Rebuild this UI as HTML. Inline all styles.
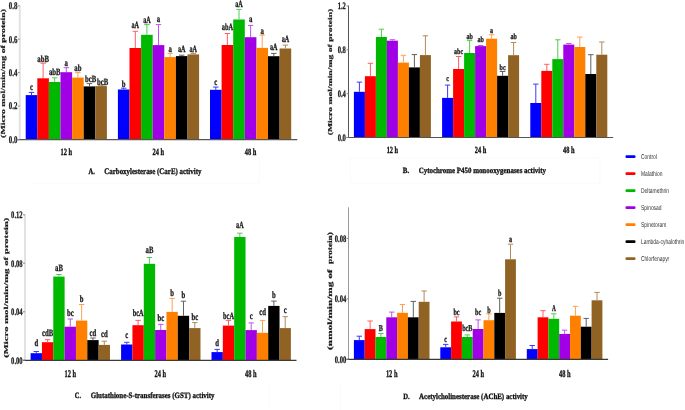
<!DOCTYPE html>
<html><head><meta charset="utf-8"><style>
html,body{margin:0;padding:0;background:#fff;}
body{width:685px;height:410px;overflow:hidden;}
svg{display:block;will-change:transform;filter:blur(0.35px);}
</style></head><body>
<svg width="685" height="410" viewBox="0 0 685 410" text-rendering="geometricPrecision">
<rect width="685" height="410" fill="#fff"/>
<path d="M30,183.3 H259.5 V157" fill="none" stroke="#fafafa" stroke-width="1"/>
<path d="M350.3,158 V183.3 H599.9 V158 Z" fill="none" stroke="#fafafa" stroke-width="1"/>
<path d="M269.3,382 V408.2 M340.5,382 V410" fill="none" stroke="#fafafa" stroke-width="1"/>
<rect x="25.70" y="95.10" width="11.60" height="44.50" fill="#0000ff"/>
<line x1="31.50" y1="92.40" x2="31.50" y2="95.10" stroke="#3a3aff" stroke-width="1"/>
<line x1="28.80" y1="92.40" x2="34.20" y2="92.40" stroke="#3a3aff" stroke-width="1"/>
<text x="31.50" y="90.20" font-size="9.5" font-family='"Liberation Serif", serif' font-weight="bold" fill="#1a1a1a" text-anchor="middle" textLength="2.99" lengthAdjust="spacingAndGlyphs" stroke="#1a1a1a" stroke-width="0.3">c</text>
<rect x="37.30" y="78.30" width="11.60" height="61.30" fill="#ff0000"/>
<line x1="43.10" y1="63.20" x2="43.10" y2="78.30" stroke="#ff6060" stroke-width="1"/>
<line x1="40.40" y1="63.20" x2="45.80" y2="63.20" stroke="#ff6060" stroke-width="1"/>
<text x="43.10" y="61.60" font-size="9.5" font-family='"Liberation Serif", serif' font-weight="bold" fill="#1a1a1a" text-anchor="middle" textLength="11.62" lengthAdjust="spacingAndGlyphs" stroke="#1a1a1a" stroke-width="0.3">abB</text>
<rect x="48.90" y="82.00" width="11.60" height="57.60" fill="#00b800"/>
<line x1="54.70" y1="77.80" x2="54.70" y2="82.00" stroke="#50cc50" stroke-width="1"/>
<line x1="52.00" y1="77.80" x2="57.40" y2="77.80" stroke="#50cc50" stroke-width="1"/>
<text x="54.70" y="74.60" font-size="9.5" font-family='"Liberation Serif", serif' font-weight="bold" fill="#1a1a1a" text-anchor="middle" textLength="11.62" lengthAdjust="spacingAndGlyphs" stroke="#1a1a1a" stroke-width="0.3">abB</text>
<rect x="60.50" y="72.20" width="11.60" height="67.40" fill="#a100e6"/>
<line x1="66.30" y1="67.70" x2="66.30" y2="72.20" stroke="#bb55ee" stroke-width="1"/>
<line x1="63.60" y1="67.70" x2="69.00" y2="67.70" stroke="#bb55ee" stroke-width="1"/>
<text x="66.30" y="65.70" font-size="9.5" font-family='"Liberation Serif", serif' font-weight="bold" fill="#1a1a1a" text-anchor="middle" textLength="3.37" lengthAdjust="spacingAndGlyphs" stroke="#1a1a1a" stroke-width="0.3">a</text>
<rect x="72.10" y="77.60" width="11.60" height="62.00" fill="#ff8000"/>
<line x1="77.90" y1="72.60" x2="77.90" y2="77.60" stroke="#ffa050" stroke-width="1"/>
<line x1="75.20" y1="72.60" x2="80.60" y2="72.60" stroke="#ffa050" stroke-width="1"/>
<text x="77.90" y="71.00" font-size="9.5" font-family='"Liberation Serif", serif' font-weight="bold" fill="#1a1a1a" text-anchor="middle" textLength="7.12" lengthAdjust="spacingAndGlyphs" stroke="#1a1a1a" stroke-width="0.3">ab</text>
<rect x="83.70" y="86.40" width="11.60" height="53.20" fill="#000000"/>
<line x1="89.50" y1="83.60" x2="89.50" y2="86.40" stroke="#606060" stroke-width="1"/>
<line x1="86.80" y1="83.60" x2="92.20" y2="83.60" stroke="#606060" stroke-width="1"/>
<text x="90.60" y="82.20" font-size="9.5" font-family='"Liberation Serif", serif' font-weight="bold" fill="#1a1a1a" text-anchor="middle" textLength="11.24" lengthAdjust="spacingAndGlyphs" stroke="#1a1a1a" stroke-width="0.3">bcB</text>
<rect x="95.30" y="86.10" width="11.60" height="53.50" fill="#906224"/>
<line x1="101.10" y1="85.20" x2="101.10" y2="86.10" stroke="#b08a58" stroke-width="1"/>
<line x1="98.40" y1="85.20" x2="103.80" y2="85.20" stroke="#b08a58" stroke-width="1"/>
<text x="102.70" y="85.10" font-size="9.5" font-family='"Liberation Serif", serif' font-weight="bold" fill="#1a1a1a" text-anchor="middle" textLength="11.24" lengthAdjust="spacingAndGlyphs" stroke="#1a1a1a" stroke-width="0.3">bcB</text>
<rect x="117.90" y="89.50" width="11.60" height="50.10" fill="#0000ff"/>
<line x1="123.70" y1="88.20" x2="123.70" y2="89.50" stroke="#3a3aff" stroke-width="1"/>
<line x1="121.00" y1="88.20" x2="126.40" y2="88.20" stroke="#3a3aff" stroke-width="1"/>
<text x="123.70" y="86.60" font-size="9.5" font-family='"Liberation Serif", serif' font-weight="bold" fill="#1a1a1a" text-anchor="middle" textLength="3.75" lengthAdjust="spacingAndGlyphs" stroke="#1a1a1a" stroke-width="0.3">b</text>
<rect x="129.50" y="48.00" width="11.60" height="91.60" fill="#ff0000"/>
<line x1="135.30" y1="31.30" x2="135.30" y2="48.00" stroke="#ff6060" stroke-width="1"/>
<line x1="132.60" y1="31.30" x2="138.00" y2="31.30" stroke="#ff6060" stroke-width="1"/>
<text x="135.30" y="28.30" font-size="9.5" font-family='"Liberation Serif", serif' font-weight="bold" fill="#1a1a1a" text-anchor="middle" textLength="7.55" lengthAdjust="spacingAndGlyphs" stroke="#1a1a1a" stroke-width="0.3">aA</text>
<rect x="141.10" y="34.80" width="11.60" height="104.80" fill="#00b800"/>
<line x1="146.90" y1="24.60" x2="146.90" y2="34.80" stroke="#50cc50" stroke-width="1"/>
<line x1="144.20" y1="24.60" x2="149.60" y2="24.60" stroke="#50cc50" stroke-width="1"/>
<text x="146.90" y="22.80" font-size="9.5" font-family='"Liberation Serif", serif' font-weight="bold" fill="#1a1a1a" text-anchor="middle" textLength="7.55" lengthAdjust="spacingAndGlyphs" stroke="#1a1a1a" stroke-width="0.3">aA</text>
<rect x="152.70" y="45.10" width="11.60" height="94.50" fill="#a100e6"/>
<line x1="158.50" y1="24.60" x2="158.50" y2="45.10" stroke="#bb55ee" stroke-width="1"/>
<line x1="155.80" y1="24.60" x2="161.20" y2="24.60" stroke="#bb55ee" stroke-width="1"/>
<text x="158.50" y="22.20" font-size="9.5" font-family='"Liberation Serif", serif' font-weight="bold" fill="#1a1a1a" text-anchor="middle" textLength="3.37" lengthAdjust="spacingAndGlyphs" stroke="#1a1a1a" stroke-width="0.3">a</text>
<rect x="164.30" y="57.10" width="11.60" height="82.50" fill="#ff8000"/>
<line x1="170.10" y1="53.40" x2="170.10" y2="57.10" stroke="#ffa050" stroke-width="1"/>
<line x1="167.40" y1="53.40" x2="172.80" y2="53.40" stroke="#ffa050" stroke-width="1"/>
<text x="170.10" y="51.70" font-size="9.5" font-family='"Liberation Serif", serif' font-weight="bold" fill="#1a1a1a" text-anchor="middle" textLength="3.37" lengthAdjust="spacingAndGlyphs" stroke="#1a1a1a" stroke-width="0.3">a</text>
<rect x="175.90" y="56.10" width="11.60" height="83.50" fill="#000000"/>
<line x1="181.70" y1="55.20" x2="181.70" y2="56.10" stroke="#606060" stroke-width="1"/>
<line x1="179.00" y1="55.20" x2="184.40" y2="55.20" stroke="#606060" stroke-width="1"/>
<text x="181.70" y="51.70" font-size="9.5" font-family='"Liberation Serif", serif' font-weight="bold" fill="#1a1a1a" text-anchor="middle" textLength="7.55" lengthAdjust="spacingAndGlyphs" stroke="#1a1a1a" stroke-width="0.3">aA</text>
<rect x="187.50" y="54.40" width="11.60" height="85.20" fill="#906224"/>
<line x1="193.30" y1="53.40" x2="193.30" y2="54.40" stroke="#b08a58" stroke-width="1"/>
<line x1="190.60" y1="53.40" x2="196.00" y2="53.40" stroke="#b08a58" stroke-width="1"/>
<text x="193.30" y="51.70" font-size="9.5" font-family='"Liberation Serif", serif' font-weight="bold" fill="#1a1a1a" text-anchor="middle" textLength="7.55" lengthAdjust="spacingAndGlyphs" stroke="#1a1a1a" stroke-width="0.3">aA</text>
<rect x="210.00" y="89.80" width="11.60" height="49.80" fill="#0000ff"/>
<line x1="215.80" y1="87.10" x2="215.80" y2="89.80" stroke="#3a3aff" stroke-width="1"/>
<line x1="213.10" y1="87.10" x2="218.50" y2="87.10" stroke="#3a3aff" stroke-width="1"/>
<text x="215.80" y="85.40" font-size="9.5" font-family='"Liberation Serif", serif' font-weight="bold" fill="#1a1a1a" text-anchor="middle" textLength="2.99" lengthAdjust="spacingAndGlyphs" stroke="#1a1a1a" stroke-width="0.3">c</text>
<rect x="221.60" y="45.00" width="11.60" height="94.60" fill="#ff0000"/>
<line x1="227.40" y1="33.50" x2="227.40" y2="45.00" stroke="#ff6060" stroke-width="1"/>
<line x1="224.70" y1="33.50" x2="230.10" y2="33.50" stroke="#ff6060" stroke-width="1"/>
<text x="227.40" y="29.90" font-size="9.5" font-family='"Liberation Serif", serif' font-weight="bold" fill="#1a1a1a" text-anchor="middle" textLength="11.30" lengthAdjust="spacingAndGlyphs" stroke="#1a1a1a" stroke-width="0.3">abA</text>
<rect x="233.20" y="19.50" width="11.60" height="120.10" fill="#00b800"/>
<line x1="239.00" y1="9.40" x2="239.00" y2="19.50" stroke="#50cc50" stroke-width="1"/>
<line x1="236.30" y1="9.40" x2="241.70" y2="9.40" stroke="#50cc50" stroke-width="1"/>
<text x="239.00" y="6.70" font-size="9.5" font-family='"Liberation Serif", serif' font-weight="bold" fill="#1a1a1a" text-anchor="middle" textLength="7.55" lengthAdjust="spacingAndGlyphs" stroke="#1a1a1a" stroke-width="0.3">aA</text>
<rect x="244.80" y="37.20" width="11.60" height="102.40" fill="#a100e6"/>
<line x1="250.60" y1="25.40" x2="250.60" y2="37.20" stroke="#bb55ee" stroke-width="1"/>
<line x1="247.90" y1="25.40" x2="253.30" y2="25.40" stroke="#bb55ee" stroke-width="1"/>
<text x="250.60" y="22.30" font-size="9.5" font-family='"Liberation Serif", serif' font-weight="bold" fill="#1a1a1a" text-anchor="middle" textLength="3.37" lengthAdjust="spacingAndGlyphs" stroke="#1a1a1a" stroke-width="0.3">a</text>
<rect x="256.40" y="47.90" width="11.60" height="91.70" fill="#ff8000"/>
<line x1="262.20" y1="35.10" x2="262.20" y2="47.90" stroke="#ffa050" stroke-width="1"/>
<line x1="259.50" y1="35.10" x2="264.90" y2="35.10" stroke="#ffa050" stroke-width="1"/>
<text x="262.20" y="33.90" font-size="9.5" font-family='"Liberation Serif", serif' font-weight="bold" fill="#1a1a1a" text-anchor="middle" textLength="3.37" lengthAdjust="spacingAndGlyphs" stroke="#1a1a1a" stroke-width="0.3">a</text>
<rect x="268.00" y="56.20" width="11.60" height="83.40" fill="#000000"/>
<line x1="273.80" y1="53.40" x2="273.80" y2="56.20" stroke="#606060" stroke-width="1"/>
<line x1="271.10" y1="53.40" x2="276.50" y2="53.40" stroke="#606060" stroke-width="1"/>
<text x="273.80" y="49.50" font-size="9.5" font-family='"Liberation Serif", serif' font-weight="bold" fill="#1a1a1a" text-anchor="middle" textLength="7.55" lengthAdjust="spacingAndGlyphs" stroke="#1a1a1a" stroke-width="0.3">aA</text>
<rect x="279.60" y="48.50" width="11.60" height="91.10" fill="#906224"/>
<line x1="285.40" y1="45.10" x2="285.40" y2="48.50" stroke="#b08a58" stroke-width="1"/>
<line x1="282.70" y1="45.10" x2="288.10" y2="45.10" stroke="#b08a58" stroke-width="1"/>
<text x="285.40" y="42.40" font-size="9.5" font-family='"Liberation Serif", serif' font-weight="bold" fill="#1a1a1a" text-anchor="middle" textLength="7.55" lengthAdjust="spacingAndGlyphs" stroke="#1a1a1a" stroke-width="0.3">aA</text>
<line x1="19.80" y1="5.50" x2="19.80" y2="139.60" stroke="#e2e2e2" stroke-width="2"/>
<line x1="17.80" y1="139.60" x2="297.30" y2="139.60" stroke="#555" stroke-width="1.2"/>
<line x1="17.80" y1="139.60" x2="19.80" y2="139.60" stroke="#888" stroke-width="1"/>
<text transform="translate(17.50,143.00) scale(0.67,1)" font-size="10.3" font-family='"Liberation Serif", serif' font-weight="bold" fill="#222" text-anchor="end" stroke="#222" stroke-width="0.3">0.0</text>
<line x1="17.80" y1="106.00" x2="19.80" y2="106.00" stroke="#888" stroke-width="1"/>
<text transform="translate(17.50,109.40) scale(0.67,1)" font-size="10.3" font-family='"Liberation Serif", serif' font-weight="bold" fill="#222" text-anchor="end" stroke="#222" stroke-width="0.3">0.2</text>
<line x1="17.80" y1="72.60" x2="19.80" y2="72.60" stroke="#888" stroke-width="1"/>
<text transform="translate(17.50,76.00) scale(0.67,1)" font-size="10.3" font-family='"Liberation Serif", serif' font-weight="bold" fill="#222" text-anchor="end" stroke="#222" stroke-width="0.3">0.4</text>
<line x1="17.80" y1="39.20" x2="19.80" y2="39.20" stroke="#888" stroke-width="1"/>
<text transform="translate(17.50,42.60) scale(0.67,1)" font-size="10.3" font-family='"Liberation Serif", serif' font-weight="bold" fill="#222" text-anchor="end" stroke="#222" stroke-width="0.3">0.6</text>
<line x1="17.80" y1="5.80" x2="19.80" y2="5.80" stroke="#888" stroke-width="1"/>
<text transform="translate(17.50,9.20) scale(0.67,1)" font-size="10.3" font-family='"Liberation Serif", serif' font-weight="bold" fill="#222" text-anchor="end" stroke="#222" stroke-width="0.3">0.8</text>
<text transform="translate(4.60,73.45) rotate(-90) scale(1,0.62)" font-size="10" font-family='"Liberation Serif", serif' font-weight="bold" fill="#1a1a1a" stroke="#1a1a1a" stroke-width="0.3" text-anchor="middle" textLength="128.90" lengthAdjust="spacingAndGlyphs">(Micro mol/min/mg of protein)</text>
<text transform="translate(66.30,154.90) scale(0.67,1)" font-size="9.6" font-family='"Liberation Serif", serif' font-weight="bold" fill="#111" text-anchor="middle" stroke="#111" stroke-width="0.3">12 h</text>
<text transform="translate(158.30,154.90) scale(0.67,1)" font-size="9.6" font-family='"Liberation Serif", serif' font-weight="bold" fill="#111" text-anchor="middle" stroke="#111" stroke-width="0.3">24 h</text>
<text transform="translate(250.50,154.90) scale(0.67,1)" font-size="9.6" font-family='"Liberation Serif", serif' font-weight="bold" fill="#111" text-anchor="middle" stroke="#111" stroke-width="0.3">48 h</text>
<text x="88.50" y="173.80" font-size="8.6" font-family='"Liberation Serif", serif' font-weight="bold" fill="#111" text-anchor="start" textLength="6.30" lengthAdjust="spacingAndGlyphs" stroke="#111" stroke-width="0.3">A.</text>
<text x="104.30" y="173.80" font-size="8.6" font-family='"Liberation Serif", serif' font-weight="bold" fill="#111" text-anchor="start" textLength="97.10" lengthAdjust="spacingAndGlyphs" stroke="#111" stroke-width="0.3">Carboxylesterase (CarE) activity</text>
<rect x="353.90" y="91.80" width="11.00" height="45.70" fill="#0000ff"/>
<line x1="359.40" y1="82.10" x2="359.40" y2="91.80" stroke="#3a3aff" stroke-width="1"/>
<line x1="356.70" y1="82.10" x2="362.10" y2="82.10" stroke="#3a3aff" stroke-width="1"/>
<rect x="364.90" y="76.20" width="11.00" height="61.30" fill="#ff0000"/>
<line x1="370.40" y1="63.30" x2="370.40" y2="76.20" stroke="#ff6060" stroke-width="1"/>
<line x1="367.70" y1="63.30" x2="373.10" y2="63.30" stroke="#ff6060" stroke-width="1"/>
<rect x="375.90" y="37.00" width="11.00" height="100.50" fill="#00b800"/>
<line x1="381.40" y1="29.20" x2="381.40" y2="37.00" stroke="#50cc50" stroke-width="1"/>
<line x1="378.70" y1="29.20" x2="384.10" y2="29.20" stroke="#50cc50" stroke-width="1"/>
<rect x="386.90" y="40.70" width="11.00" height="96.80" fill="#a100e6"/>
<line x1="392.40" y1="39.70" x2="392.40" y2="40.70" stroke="#bb55ee" stroke-width="1"/>
<line x1="389.70" y1="39.70" x2="395.10" y2="39.70" stroke="#bb55ee" stroke-width="1"/>
<rect x="397.90" y="62.60" width="11.00" height="74.90" fill="#ff8000"/>
<line x1="403.40" y1="55.30" x2="403.40" y2="62.60" stroke="#ffa050" stroke-width="1"/>
<line x1="400.70" y1="55.30" x2="406.10" y2="55.30" stroke="#ffa050" stroke-width="1"/>
<rect x="408.90" y="67.40" width="11.00" height="70.10" fill="#000000"/>
<line x1="414.40" y1="54.60" x2="414.40" y2="67.40" stroke="#606060" stroke-width="1"/>
<line x1="411.70" y1="54.60" x2="417.10" y2="54.60" stroke="#606060" stroke-width="1"/>
<rect x="419.90" y="55.10" width="11.00" height="82.40" fill="#906224"/>
<line x1="425.40" y1="35.80" x2="425.40" y2="55.10" stroke="#b08a58" stroke-width="1"/>
<line x1="422.70" y1="35.80" x2="428.10" y2="35.80" stroke="#b08a58" stroke-width="1"/>
<rect x="442.10" y="97.90" width="11.00" height="39.60" fill="#0000ff"/>
<line x1="447.60" y1="85.10" x2="447.60" y2="97.90" stroke="#3a3aff" stroke-width="1"/>
<line x1="444.90" y1="85.10" x2="450.30" y2="85.10" stroke="#3a3aff" stroke-width="1"/>
<text x="447.60" y="80.90" font-size="8" font-family='"Liberation Serif", serif' font-weight="bold" fill="#1a1a1a" text-anchor="middle" textLength="2.66" lengthAdjust="spacingAndGlyphs" stroke="#1a1a1a" stroke-width="0.3">c</text>
<rect x="453.10" y="69.00" width="11.00" height="68.50" fill="#ff0000"/>
<line x1="458.60" y1="56.50" x2="458.60" y2="69.00" stroke="#ff6060" stroke-width="1"/>
<line x1="455.90" y1="56.50" x2="461.30" y2="56.50" stroke="#ff6060" stroke-width="1"/>
<text x="458.60" y="54.30" font-size="8" font-family='"Liberation Serif", serif' font-weight="bold" fill="#1a1a1a" text-anchor="middle" textLength="9.00" lengthAdjust="spacingAndGlyphs" stroke="#1a1a1a" stroke-width="0.3">abc</text>
<rect x="464.10" y="53.00" width="11.00" height="84.50" fill="#00b800"/>
<line x1="469.60" y1="40.60" x2="469.60" y2="53.00" stroke="#50cc50" stroke-width="1"/>
<line x1="466.90" y1="40.60" x2="472.30" y2="40.60" stroke="#50cc50" stroke-width="1"/>
<text x="469.60" y="38.70" font-size="8" font-family='"Liberation Serif", serif' font-weight="bold" fill="#1a1a1a" text-anchor="middle" textLength="6.34" lengthAdjust="spacingAndGlyphs" stroke="#1a1a1a" stroke-width="0.3">ab</text>
<rect x="475.10" y="46.10" width="11.00" height="91.40" fill="#a100e6"/>
<line x1="480.60" y1="45.50" x2="480.60" y2="46.10" stroke="#bb55ee" stroke-width="1"/>
<line x1="477.90" y1="45.50" x2="483.30" y2="45.50" stroke="#bb55ee" stroke-width="1"/>
<text x="480.60" y="42.40" font-size="8" font-family='"Liberation Serif", serif' font-weight="bold" fill="#1a1a1a" text-anchor="middle" textLength="6.34" lengthAdjust="spacingAndGlyphs" stroke="#1a1a1a" stroke-width="0.3">ab</text>
<rect x="486.10" y="38.70" width="11.00" height="98.80" fill="#ff8000"/>
<line x1="491.60" y1="34.70" x2="491.60" y2="38.70" stroke="#ffa050" stroke-width="1"/>
<line x1="488.90" y1="34.70" x2="494.30" y2="34.70" stroke="#ffa050" stroke-width="1"/>
<text x="491.60" y="33.00" font-size="8" font-family='"Liberation Serif", serif' font-weight="bold" fill="#1a1a1a" text-anchor="middle" textLength="3.00" lengthAdjust="spacingAndGlyphs" stroke="#1a1a1a" stroke-width="0.3">a</text>
<rect x="497.10" y="75.80" width="11.00" height="61.70" fill="#000000"/>
<line x1="502.60" y1="71.50" x2="502.60" y2="75.80" stroke="#606060" stroke-width="1"/>
<line x1="499.90" y1="71.50" x2="505.30" y2="71.50" stroke="#606060" stroke-width="1"/>
<text x="502.60" y="69.90" font-size="8" font-family='"Liberation Serif", serif' font-weight="bold" fill="#1a1a1a" text-anchor="middle" textLength="6.00" lengthAdjust="spacingAndGlyphs" stroke="#1a1a1a" stroke-width="0.3">bc</text>
<rect x="508.10" y="55.20" width="11.00" height="82.30" fill="#906224"/>
<line x1="513.60" y1="42.50" x2="513.60" y2="55.20" stroke="#b08a58" stroke-width="1"/>
<line x1="510.90" y1="42.50" x2="516.30" y2="42.50" stroke="#b08a58" stroke-width="1"/>
<text x="513.60" y="38.70" font-size="8" font-family='"Liberation Serif", serif' font-weight="bold" fill="#1a1a1a" text-anchor="middle" textLength="6.34" lengthAdjust="spacingAndGlyphs" stroke="#1a1a1a" stroke-width="0.3">ab</text>
<rect x="530.30" y="103.00" width="11.00" height="34.50" fill="#0000ff"/>
<line x1="535.80" y1="84.10" x2="535.80" y2="103.00" stroke="#3a3aff" stroke-width="1"/>
<line x1="533.10" y1="84.10" x2="538.50" y2="84.10" stroke="#3a3aff" stroke-width="1"/>
<rect x="541.30" y="70.90" width="11.00" height="66.60" fill="#ff0000"/>
<line x1="546.80" y1="64.30" x2="546.80" y2="70.90" stroke="#ff6060" stroke-width="1"/>
<line x1="544.10" y1="64.30" x2="549.50" y2="64.30" stroke="#ff6060" stroke-width="1"/>
<rect x="552.30" y="59.10" width="11.00" height="78.40" fill="#00b800"/>
<line x1="557.80" y1="39.80" x2="557.80" y2="59.10" stroke="#50cc50" stroke-width="1"/>
<line x1="555.10" y1="39.80" x2="560.50" y2="39.80" stroke="#50cc50" stroke-width="1"/>
<rect x="563.30" y="44.60" width="11.00" height="92.90" fill="#a100e6"/>
<line x1="568.80" y1="43.50" x2="568.80" y2="44.60" stroke="#bb55ee" stroke-width="1"/>
<line x1="566.10" y1="43.50" x2="571.50" y2="43.50" stroke="#bb55ee" stroke-width="1"/>
<rect x="574.30" y="47.00" width="11.00" height="90.50" fill="#ff8000"/>
<line x1="579.80" y1="37.10" x2="579.80" y2="47.00" stroke="#ffa050" stroke-width="1"/>
<line x1="577.10" y1="37.10" x2="582.50" y2="37.10" stroke="#ffa050" stroke-width="1"/>
<rect x="585.30" y="74.00" width="11.00" height="63.50" fill="#000000"/>
<line x1="590.80" y1="54.70" x2="590.80" y2="74.00" stroke="#606060" stroke-width="1"/>
<line x1="588.10" y1="54.70" x2="593.50" y2="54.70" stroke="#606060" stroke-width="1"/>
<rect x="596.30" y="54.70" width="11.00" height="82.80" fill="#906224"/>
<line x1="601.80" y1="42.00" x2="601.80" y2="54.70" stroke="#b08a58" stroke-width="1"/>
<line x1="599.10" y1="42.00" x2="604.50" y2="42.00" stroke="#b08a58" stroke-width="1"/>
<line x1="348.50" y1="5.50" x2="348.50" y2="137.50" stroke="#555" stroke-width="1"/>
<line x1="346.50" y1="137.50" x2="613.20" y2="137.50" stroke="#555" stroke-width="1.2"/>
<line x1="346.50" y1="137.50" x2="348.50" y2="137.50" stroke="#888" stroke-width="1"/>
<text transform="translate(345.90,140.80) scale(0.67,1)" font-size="9.8" font-family='"Liberation Serif", serif' font-weight="bold" fill="#222" text-anchor="end" stroke="#222" stroke-width="0.3">0.0</text>
<line x1="346.50" y1="93.70" x2="348.50" y2="93.70" stroke="#888" stroke-width="1"/>
<text transform="translate(345.90,97.00) scale(0.67,1)" font-size="9.8" font-family='"Liberation Serif", serif' font-weight="bold" fill="#222" text-anchor="end" stroke="#222" stroke-width="0.3">0.4</text>
<line x1="346.50" y1="49.80" x2="348.50" y2="49.80" stroke="#888" stroke-width="1"/>
<text transform="translate(345.90,53.10) scale(0.67,1)" font-size="9.8" font-family='"Liberation Serif", serif' font-weight="bold" fill="#222" text-anchor="end" stroke="#222" stroke-width="0.3">0.8</text>
<line x1="346.50" y1="6.00" x2="348.50" y2="6.00" stroke="#888" stroke-width="1"/>
<text transform="translate(345.90,9.30) scale(0.67,1)" font-size="9.8" font-family='"Liberation Serif", serif' font-weight="bold" fill="#222" text-anchor="end" stroke="#222" stroke-width="0.3">1.2</text>
<text transform="translate(332.20,72.00) rotate(-90) scale(1,0.6)" font-size="10" font-family='"Liberation Serif", serif' font-weight="bold" fill="#1a1a1a" stroke="#1a1a1a" stroke-width="0.3" text-anchor="middle" textLength="126.50" lengthAdjust="spacingAndGlyphs">(Micro mol/min/mg of protein)</text>
<text transform="translate(392.40,152.90) scale(0.68,1)" font-size="9.4" font-family='"Liberation Serif", serif' font-weight="bold" fill="#111" text-anchor="middle" stroke="#111" stroke-width="0.3">12 h</text>
<text transform="translate(480.50,152.90) scale(0.68,1)" font-size="9.4" font-family='"Liberation Serif", serif' font-weight="bold" fill="#111" text-anchor="middle" stroke="#111" stroke-width="0.3">24 h</text>
<text transform="translate(568.70,152.90) scale(0.68,1)" font-size="9.4" font-family='"Liberation Serif", serif' font-weight="bold" fill="#111" text-anchor="middle" stroke="#111" stroke-width="0.3">48 h</text>
<text x="402.80" y="173.40" font-size="8.0" font-family='"Liberation Serif", serif' font-weight="bold" fill="#111" text-anchor="start" textLength="6.40" lengthAdjust="spacingAndGlyphs" stroke="#111" stroke-width="0.3">B.</text>
<text x="418.70" y="173.40" font-size="8.0" font-family='"Liberation Serif", serif' font-weight="bold" fill="#111" text-anchor="start" textLength="127.30" lengthAdjust="spacingAndGlyphs" stroke="#111" stroke-width="0.3">Cytochrome P450 monooxygenases activity</text>
<rect x="30.60" y="353.20" width="11.34" height="7.10" fill="#0000ff"/>
<line x1="36.27" y1="351.50" x2="36.27" y2="353.20" stroke="#3a3aff" stroke-width="1"/>
<line x1="33.57" y1="351.50" x2="38.97" y2="351.50" stroke="#3a3aff" stroke-width="1"/>
<text x="36.27" y="345.60" font-size="9.6" font-family='"Liberation Serif", serif' font-weight="bold" fill="#1a1a1a" text-anchor="middle" textLength="3.74" lengthAdjust="spacingAndGlyphs" stroke="#1a1a1a" stroke-width="0.3">d</text>
<rect x="41.94" y="342.20" width="11.34" height="18.10" fill="#ff0000"/>
<line x1="47.61" y1="339.70" x2="47.61" y2="342.20" stroke="#ff6060" stroke-width="1"/>
<line x1="44.91" y1="339.70" x2="50.31" y2="339.70" stroke="#ff6060" stroke-width="1"/>
<text x="47.61" y="335.90" font-size="9.6" font-family='"Liberation Serif", serif' font-weight="bold" fill="#1a1a1a" text-anchor="middle" textLength="11.20" lengthAdjust="spacingAndGlyphs" stroke="#1a1a1a" stroke-width="0.3">cdB</text>
<rect x="53.28" y="276.60" width="11.34" height="83.70" fill="#00b800"/>
<line x1="58.95" y1="274.50" x2="58.95" y2="276.60" stroke="#50cc50" stroke-width="1"/>
<line x1="56.25" y1="274.50" x2="61.65" y2="274.50" stroke="#50cc50" stroke-width="1"/>
<text x="58.95" y="270.60" font-size="9.6" font-family='"Liberation Serif", serif' font-weight="bold" fill="#1a1a1a" text-anchor="middle" textLength="7.84" lengthAdjust="spacingAndGlyphs" stroke="#1a1a1a" stroke-width="0.3">aB</text>
<rect x="64.62" y="326.70" width="11.34" height="33.60" fill="#a100e6"/>
<line x1="70.29" y1="319.00" x2="70.29" y2="326.70" stroke="#bb55ee" stroke-width="1"/>
<line x1="67.59" y1="319.00" x2="72.99" y2="319.00" stroke="#bb55ee" stroke-width="1"/>
<text x="70.29" y="316.20" font-size="9.6" font-family='"Liberation Serif", serif' font-weight="bold" fill="#1a1a1a" text-anchor="middle" textLength="6.72" lengthAdjust="spacingAndGlyphs" stroke="#1a1a1a" stroke-width="0.3">bc</text>
<rect x="75.96" y="320.60" width="11.34" height="39.70" fill="#ff8000"/>
<line x1="81.63" y1="304.50" x2="81.63" y2="320.60" stroke="#ffa050" stroke-width="1"/>
<line x1="78.93" y1="304.50" x2="84.33" y2="304.50" stroke="#ffa050" stroke-width="1"/>
<text x="81.63" y="301.90" font-size="9.6" font-family='"Liberation Serif", serif' font-weight="bold" fill="#1a1a1a" text-anchor="middle" textLength="3.74" lengthAdjust="spacingAndGlyphs" stroke="#1a1a1a" stroke-width="0.3">b</text>
<rect x="87.30" y="340.10" width="11.34" height="20.20" fill="#000000"/>
<line x1="92.97" y1="338.00" x2="92.97" y2="340.10" stroke="#606060" stroke-width="1"/>
<line x1="90.27" y1="338.00" x2="95.67" y2="338.00" stroke="#606060" stroke-width="1"/>
<text x="92.97" y="335.90" font-size="9.6" font-family='"Liberation Serif", serif' font-weight="bold" fill="#1a1a1a" text-anchor="middle" textLength="6.72" lengthAdjust="spacingAndGlyphs" stroke="#1a1a1a" stroke-width="0.3">cd</text>
<rect x="98.64" y="344.90" width="11.34" height="15.40" fill="#906224"/>
<line x1="104.31" y1="341.20" x2="104.31" y2="344.90" stroke="#b08a58" stroke-width="1"/>
<line x1="101.61" y1="341.20" x2="107.01" y2="341.20" stroke="#b08a58" stroke-width="1"/>
<text x="104.31" y="337.20" font-size="9.6" font-family='"Liberation Serif", serif' font-weight="bold" fill="#1a1a1a" text-anchor="middle" textLength="6.72" lengthAdjust="spacingAndGlyphs" stroke="#1a1a1a" stroke-width="0.3">cd</text>
<rect x="121.10" y="344.50" width="11.34" height="15.80" fill="#0000ff"/>
<line x1="126.77" y1="342.30" x2="126.77" y2="344.50" stroke="#3a3aff" stroke-width="1"/>
<line x1="124.07" y1="342.30" x2="129.47" y2="342.30" stroke="#3a3aff" stroke-width="1"/>
<text x="126.77" y="337.50" font-size="9.6" font-family='"Liberation Serif", serif' font-weight="bold" fill="#1a1a1a" text-anchor="middle" textLength="2.98" lengthAdjust="spacingAndGlyphs" stroke="#1a1a1a" stroke-width="0.3">c</text>
<rect x="132.44" y="325.20" width="11.34" height="35.10" fill="#ff0000"/>
<line x1="138.11" y1="320.40" x2="138.11" y2="325.20" stroke="#ff6060" stroke-width="1"/>
<line x1="135.41" y1="320.40" x2="140.81" y2="320.40" stroke="#ff6060" stroke-width="1"/>
<text x="138.11" y="316.20" font-size="9.6" font-family='"Liberation Serif", serif' font-weight="bold" fill="#1a1a1a" text-anchor="middle" textLength="10.89" lengthAdjust="spacingAndGlyphs" stroke="#1a1a1a" stroke-width="0.3">bcA</text>
<rect x="143.78" y="263.80" width="11.34" height="96.50" fill="#00b800"/>
<line x1="149.45" y1="257.50" x2="149.45" y2="263.80" stroke="#50cc50" stroke-width="1"/>
<line x1="146.75" y1="257.50" x2="152.15" y2="257.50" stroke="#50cc50" stroke-width="1"/>
<text x="149.45" y="253.20" font-size="9.6" font-family='"Liberation Serif", serif' font-weight="bold" fill="#1a1a1a" text-anchor="middle" textLength="7.84" lengthAdjust="spacingAndGlyphs" stroke="#1a1a1a" stroke-width="0.3">aB</text>
<rect x="155.12" y="330.00" width="11.34" height="30.30" fill="#a100e6"/>
<line x1="160.79" y1="324.40" x2="160.79" y2="330.00" stroke="#bb55ee" stroke-width="1"/>
<line x1="158.09" y1="324.40" x2="163.49" y2="324.40" stroke="#bb55ee" stroke-width="1"/>
<text x="160.79" y="321.30" font-size="9.6" font-family='"Liberation Serif", serif' font-weight="bold" fill="#1a1a1a" text-anchor="middle" textLength="6.72" lengthAdjust="spacingAndGlyphs" stroke="#1a1a1a" stroke-width="0.3">bc</text>
<rect x="166.46" y="311.90" width="11.34" height="48.40" fill="#ff8000"/>
<line x1="172.13" y1="298.40" x2="172.13" y2="311.90" stroke="#ffa050" stroke-width="1"/>
<line x1="169.43" y1="298.40" x2="174.83" y2="298.40" stroke="#ffa050" stroke-width="1"/>
<text x="172.13" y="296.20" font-size="9.6" font-family='"Liberation Serif", serif' font-weight="bold" fill="#1a1a1a" text-anchor="middle" textLength="3.74" lengthAdjust="spacingAndGlyphs" stroke="#1a1a1a" stroke-width="0.3">b</text>
<rect x="177.80" y="315.80" width="11.34" height="44.50" fill="#000000"/>
<line x1="183.47" y1="301.20" x2="183.47" y2="315.80" stroke="#606060" stroke-width="1"/>
<line x1="180.77" y1="301.20" x2="186.17" y2="301.20" stroke="#606060" stroke-width="1"/>
<text x="183.47" y="297.50" font-size="9.6" font-family='"Liberation Serif", serif' font-weight="bold" fill="#1a1a1a" text-anchor="middle" textLength="3.74" lengthAdjust="spacingAndGlyphs" stroke="#1a1a1a" stroke-width="0.3">b</text>
<rect x="189.14" y="328.10" width="11.34" height="32.20" fill="#906224"/>
<line x1="194.81" y1="322.60" x2="194.81" y2="328.10" stroke="#b08a58" stroke-width="1"/>
<line x1="192.11" y1="322.60" x2="197.51" y2="322.60" stroke="#b08a58" stroke-width="1"/>
<text x="194.81" y="319.50" font-size="9.6" font-family='"Liberation Serif", serif' font-weight="bold" fill="#1a1a1a" text-anchor="middle" textLength="6.72" lengthAdjust="spacingAndGlyphs" stroke="#1a1a1a" stroke-width="0.3">bc</text>
<rect x="211.50" y="352.10" width="11.34" height="8.20" fill="#0000ff"/>
<line x1="217.17" y1="349.40" x2="217.17" y2="352.10" stroke="#3a3aff" stroke-width="1"/>
<line x1="214.47" y1="349.40" x2="219.87" y2="349.40" stroke="#3a3aff" stroke-width="1"/>
<text x="217.17" y="345.80" font-size="9.6" font-family='"Liberation Serif", serif' font-weight="bold" fill="#1a1a1a" text-anchor="middle" textLength="3.74" lengthAdjust="spacingAndGlyphs" stroke="#1a1a1a" stroke-width="0.3">d</text>
<rect x="222.84" y="325.60" width="11.34" height="34.70" fill="#ff0000"/>
<line x1="228.51" y1="320.40" x2="228.51" y2="325.60" stroke="#ff6060" stroke-width="1"/>
<line x1="225.81" y1="320.40" x2="231.21" y2="320.40" stroke="#ff6060" stroke-width="1"/>
<text x="228.51" y="318.90" font-size="9.6" font-family='"Liberation Serif", serif' font-weight="bold" fill="#1a1a1a" text-anchor="middle" textLength="10.89" lengthAdjust="spacingAndGlyphs" stroke="#1a1a1a" stroke-width="0.3">bcA</text>
<rect x="234.18" y="237.00" width="11.34" height="123.30" fill="#00b800"/>
<line x1="239.85" y1="233.20" x2="239.85" y2="237.00" stroke="#50cc50" stroke-width="1"/>
<line x1="237.15" y1="233.20" x2="242.55" y2="233.20" stroke="#50cc50" stroke-width="1"/>
<text x="239.85" y="228.30" font-size="9.6" font-family='"Liberation Serif", serif' font-weight="bold" fill="#1a1a1a" text-anchor="middle" textLength="7.53" lengthAdjust="spacingAndGlyphs" stroke="#1a1a1a" stroke-width="0.3">aA</text>
<rect x="245.52" y="330.10" width="11.34" height="30.20" fill="#a100e6"/>
<line x1="251.19" y1="322.90" x2="251.19" y2="330.10" stroke="#bb55ee" stroke-width="1"/>
<line x1="248.49" y1="322.90" x2="253.89" y2="322.90" stroke="#bb55ee" stroke-width="1"/>
<text x="251.19" y="318.90" font-size="9.6" font-family='"Liberation Serif", serif' font-weight="bold" fill="#1a1a1a" text-anchor="middle" textLength="2.98" lengthAdjust="spacingAndGlyphs" stroke="#1a1a1a" stroke-width="0.3">c</text>
<rect x="256.86" y="332.80" width="11.34" height="27.50" fill="#ff8000"/>
<line x1="262.53" y1="320.40" x2="262.53" y2="332.80" stroke="#ffa050" stroke-width="1"/>
<line x1="259.83" y1="320.40" x2="265.23" y2="320.40" stroke="#ffa050" stroke-width="1"/>
<text x="262.53" y="315.10" font-size="9.6" font-family='"Liberation Serif", serif' font-weight="bold" fill="#1a1a1a" text-anchor="middle" textLength="6.72" lengthAdjust="spacingAndGlyphs" stroke="#1a1a1a" stroke-width="0.3">cd</text>
<rect x="268.20" y="305.90" width="11.34" height="54.40" fill="#000000"/>
<line x1="273.87" y1="301.10" x2="273.87" y2="305.90" stroke="#606060" stroke-width="1"/>
<line x1="271.17" y1="301.10" x2="276.57" y2="301.10" stroke="#606060" stroke-width="1"/>
<text x="273.87" y="297.70" font-size="9.6" font-family='"Liberation Serif", serif' font-weight="bold" fill="#1a1a1a" text-anchor="middle" textLength="3.74" lengthAdjust="spacingAndGlyphs" stroke="#1a1a1a" stroke-width="0.3">b</text>
<rect x="279.54" y="328.10" width="11.34" height="32.20" fill="#906224"/>
<line x1="285.21" y1="316.70" x2="285.21" y2="328.10" stroke="#b08a58" stroke-width="1"/>
<line x1="282.51" y1="316.70" x2="287.91" y2="316.70" stroke="#b08a58" stroke-width="1"/>
<text x="285.21" y="312.60" font-size="9.6" font-family='"Liberation Serif", serif' font-weight="bold" fill="#1a1a1a" text-anchor="middle" textLength="2.98" lengthAdjust="spacingAndGlyphs" stroke="#1a1a1a" stroke-width="0.3">c</text>
<line x1="25.00" y1="214.20" x2="25.00" y2="360.30" stroke="#e2e2e2" stroke-width="2"/>
<line x1="23.00" y1="360.30" x2="296.50" y2="360.30" stroke="#3a3a3a" stroke-width="1.2"/>
<line x1="23.00" y1="360.30" x2="25.00" y2="360.30" stroke="#888" stroke-width="1"/>
<text transform="translate(22.60,363.60) scale(0.67,1)" font-size="9.8" font-family='"Liberation Serif", serif' font-weight="bold" fill="#222" text-anchor="end" stroke="#222" stroke-width="0.3">0.00</text>
<line x1="23.00" y1="311.80" x2="25.00" y2="311.80" stroke="#888" stroke-width="1"/>
<text transform="translate(22.60,315.10) scale(0.67,1)" font-size="9.8" font-family='"Liberation Serif", serif' font-weight="bold" fill="#222" text-anchor="end" stroke="#222" stroke-width="0.3">0.04</text>
<line x1="23.00" y1="263.20" x2="25.00" y2="263.20" stroke="#888" stroke-width="1"/>
<text transform="translate(22.60,266.50) scale(0.67,1)" font-size="9.8" font-family='"Liberation Serif", serif' font-weight="bold" fill="#222" text-anchor="end" stroke="#222" stroke-width="0.3">0.08</text>
<line x1="23.00" y1="214.90" x2="25.00" y2="214.90" stroke="#888" stroke-width="1"/>
<text transform="translate(22.60,218.20) scale(0.67,1)" font-size="9.8" font-family='"Liberation Serif", serif' font-weight="bold" fill="#222" text-anchor="end" stroke="#222" stroke-width="0.3">0.12</text>
<text transform="translate(7.50,287.70) rotate(-90) scale(1,0.6)" font-size="10" font-family='"Liberation Serif", serif' font-weight="bold" fill="#1a1a1a" stroke="#1a1a1a" stroke-width="0.3" text-anchor="middle" textLength="140.20" lengthAdjust="spacingAndGlyphs">(Micro mol/min/mg of protein)</text>
<text transform="translate(70.30,377.20) scale(0.63,1)" font-size="10.2" font-family='"Liberation Serif", serif' font-weight="bold" fill="#111" text-anchor="middle" stroke="#111" stroke-width="0.3">12 h</text>
<text transform="translate(160.40,377.20) scale(0.63,1)" font-size="10.2" font-family='"Liberation Serif", serif' font-weight="bold" fill="#111" text-anchor="middle" stroke="#111" stroke-width="0.3">24 h</text>
<text transform="translate(250.80,377.20) scale(0.63,1)" font-size="10.2" font-family='"Liberation Serif", serif' font-weight="bold" fill="#111" text-anchor="middle" stroke="#111" stroke-width="0.3">48 h</text>
<text x="74.80" y="398.00" font-size="8.2" font-family='"Liberation Serif", serif' font-weight="bold" fill="#111" text-anchor="start" textLength="6.20" lengthAdjust="spacingAndGlyphs" stroke="#111" stroke-width="0.3">C.</text>
<text x="90.80" y="398.00" font-size="8.2" font-family='"Liberation Serif", serif' font-weight="bold" fill="#111" text-anchor="start" textLength="123.70" lengthAdjust="spacingAndGlyphs" stroke="#111" stroke-width="0.3">Glutathione-S-transferases (GST) activity</text>
<rect x="353.90" y="340.10" width="10.80" height="19.20" fill="#0000ff"/>
<line x1="359.30" y1="336.20" x2="359.30" y2="340.10" stroke="#3a3aff" stroke-width="1"/>
<line x1="356.60" y1="336.20" x2="362.00" y2="336.20" stroke="#3a3aff" stroke-width="1"/>
<rect x="364.70" y="329.10" width="10.80" height="30.20" fill="#ff0000"/>
<line x1="370.10" y1="321.00" x2="370.10" y2="329.10" stroke="#ff6060" stroke-width="1"/>
<line x1="367.40" y1="321.00" x2="372.80" y2="321.00" stroke="#ff6060" stroke-width="1"/>
<rect x="375.50" y="337.00" width="10.80" height="22.30" fill="#00b800"/>
<line x1="380.90" y1="333.50" x2="380.90" y2="337.00" stroke="#50cc50" stroke-width="1"/>
<line x1="378.20" y1="333.50" x2="383.60" y2="333.50" stroke="#50cc50" stroke-width="1"/>
<text x="380.90" y="330.80" font-size="9" font-family='"Liberation Serif", serif' font-weight="bold" fill="#1a1a1a" text-anchor="middle" textLength="4.14" lengthAdjust="spacingAndGlyphs" stroke="#1a1a1a" stroke-width="0.3">B</text>
<rect x="386.30" y="317.30" width="10.80" height="42.00" fill="#a100e6"/>
<line x1="391.70" y1="312.10" x2="391.70" y2="317.30" stroke="#bb55ee" stroke-width="1"/>
<line x1="389.00" y1="312.10" x2="394.40" y2="312.10" stroke="#bb55ee" stroke-width="1"/>
<rect x="397.10" y="312.80" width="10.80" height="46.50" fill="#ff8000"/>
<line x1="402.50" y1="304.50" x2="402.50" y2="312.80" stroke="#ffa050" stroke-width="1"/>
<line x1="399.80" y1="304.50" x2="405.20" y2="304.50" stroke="#ffa050" stroke-width="1"/>
<rect x="407.90" y="317.30" width="10.80" height="42.00" fill="#000000"/>
<line x1="413.30" y1="301.40" x2="413.30" y2="317.30" stroke="#606060" stroke-width="1"/>
<line x1="410.60" y1="301.40" x2="416.00" y2="301.40" stroke="#606060" stroke-width="1"/>
<rect x="418.70" y="301.80" width="10.80" height="57.50" fill="#906224"/>
<line x1="424.10" y1="291.00" x2="424.10" y2="301.80" stroke="#b08a58" stroke-width="1"/>
<line x1="421.40" y1="291.00" x2="426.80" y2="291.00" stroke="#b08a58" stroke-width="1"/>
<rect x="440.30" y="347.30" width="10.80" height="12.00" fill="#0000ff"/>
<line x1="445.70" y1="344.40" x2="445.70" y2="347.30" stroke="#3a3aff" stroke-width="1"/>
<line x1="443.00" y1="344.40" x2="448.40" y2="344.40" stroke="#3a3aff" stroke-width="1"/>
<text x="445.70" y="342.20" font-size="9" font-family='"Liberation Serif", serif' font-weight="bold" fill="#1a1a1a" text-anchor="middle" textLength="2.76" lengthAdjust="spacingAndGlyphs" stroke="#1a1a1a" stroke-width="0.3">c</text>
<rect x="451.10" y="321.50" width="10.80" height="37.80" fill="#ff0000"/>
<line x1="456.50" y1="316.90" x2="456.50" y2="321.50" stroke="#ff6060" stroke-width="1"/>
<line x1="453.80" y1="316.90" x2="459.20" y2="316.90" stroke="#ff6060" stroke-width="1"/>
<text x="456.50" y="315.30" font-size="9" font-family='"Liberation Serif", serif' font-weight="bold" fill="#1a1a1a" text-anchor="middle" textLength="6.21" lengthAdjust="spacingAndGlyphs" stroke="#1a1a1a" stroke-width="0.3">bc</text>
<rect x="461.90" y="337.00" width="10.80" height="22.30" fill="#00b800"/>
<line x1="467.30" y1="334.90" x2="467.30" y2="337.00" stroke="#50cc50" stroke-width="1"/>
<line x1="464.60" y1="334.90" x2="470.00" y2="334.90" stroke="#50cc50" stroke-width="1"/>
<text x="467.30" y="331.10" font-size="9" font-family='"Liberation Serif", serif' font-weight="bold" fill="#1a1a1a" text-anchor="middle" textLength="10.35" lengthAdjust="spacingAndGlyphs" stroke="#1a1a1a" stroke-width="0.3">bcB</text>
<rect x="472.70" y="329.00" width="10.80" height="30.30" fill="#a100e6"/>
<line x1="478.10" y1="319.90" x2="478.10" y2="329.00" stroke="#bb55ee" stroke-width="1"/>
<line x1="475.40" y1="319.90" x2="480.80" y2="319.90" stroke="#bb55ee" stroke-width="1"/>
<text x="478.10" y="315.20" font-size="9" font-family='"Liberation Serif", serif' font-weight="bold" fill="#1a1a1a" text-anchor="middle" textLength="6.21" lengthAdjust="spacingAndGlyphs" stroke="#1a1a1a" stroke-width="0.3">bc</text>
<rect x="483.50" y="320.20" width="10.80" height="39.10" fill="#ff8000"/>
<line x1="488.90" y1="313.80" x2="488.90" y2="320.20" stroke="#ffa050" stroke-width="1"/>
<line x1="486.20" y1="313.80" x2="491.60" y2="313.80" stroke="#ffa050" stroke-width="1"/>
<text x="488.90" y="313.40" font-size="9" font-family='"Liberation Serif", serif' font-weight="bold" fill="#1a1a1a" text-anchor="middle" textLength="3.45" lengthAdjust="spacingAndGlyphs" stroke="#1a1a1a" stroke-width="0.3">b</text>
<rect x="494.30" y="312.90" width="10.80" height="46.40" fill="#000000"/>
<line x1="499.70" y1="298.20" x2="499.70" y2="312.90" stroke="#606060" stroke-width="1"/>
<line x1="497.00" y1="298.20" x2="502.40" y2="298.20" stroke="#606060" stroke-width="1"/>
<text x="499.70" y="296.40" font-size="9" font-family='"Liberation Serif", serif' font-weight="bold" fill="#1a1a1a" text-anchor="middle" textLength="3.45" lengthAdjust="spacingAndGlyphs" stroke="#1a1a1a" stroke-width="0.3">b</text>
<rect x="505.10" y="259.30" width="10.80" height="100.00" fill="#906224"/>
<line x1="510.50" y1="244.20" x2="510.50" y2="259.30" stroke="#b08a58" stroke-width="1"/>
<line x1="507.80" y1="244.20" x2="513.20" y2="244.20" stroke="#b08a58" stroke-width="1"/>
<text x="510.50" y="242.00" font-size="9" font-family='"Liberation Serif", serif' font-weight="bold" fill="#1a1a1a" text-anchor="middle" textLength="3.10" lengthAdjust="spacingAndGlyphs" stroke="#1a1a1a" stroke-width="0.3">a</text>
<rect x="526.80" y="349.10" width="10.80" height="10.20" fill="#0000ff"/>
<line x1="532.20" y1="345.50" x2="532.20" y2="349.10" stroke="#3a3aff" stroke-width="1"/>
<line x1="529.50" y1="345.50" x2="534.90" y2="345.50" stroke="#3a3aff" stroke-width="1"/>
<rect x="537.60" y="317.30" width="10.80" height="42.00" fill="#ff0000"/>
<line x1="543.00" y1="310.70" x2="543.00" y2="317.30" stroke="#ff6060" stroke-width="1"/>
<line x1="540.30" y1="310.70" x2="545.70" y2="310.70" stroke="#ff6060" stroke-width="1"/>
<rect x="548.40" y="318.80" width="10.80" height="40.50" fill="#00b800"/>
<line x1="553.80" y1="313.80" x2="553.80" y2="318.80" stroke="#50cc50" stroke-width="1"/>
<line x1="551.10" y1="313.80" x2="556.50" y2="313.80" stroke="#50cc50" stroke-width="1"/>
<text x="553.80" y="311.10" font-size="9" font-family='"Liberation Serif", serif' font-weight="bold" fill="#1a1a1a" text-anchor="middle" textLength="3.85" lengthAdjust="spacingAndGlyphs" stroke="#1a1a1a" stroke-width="0.3">A</text>
<rect x="559.20" y="333.90" width="10.80" height="25.40" fill="#a100e6"/>
<line x1="564.60" y1="330.20" x2="564.60" y2="333.90" stroke="#bb55ee" stroke-width="1"/>
<line x1="561.90" y1="330.20" x2="567.30" y2="330.20" stroke="#bb55ee" stroke-width="1"/>
<rect x="570.00" y="315.70" width="10.80" height="43.60" fill="#ff8000"/>
<line x1="575.40" y1="306.30" x2="575.40" y2="315.70" stroke="#ffa050" stroke-width="1"/>
<line x1="572.70" y1="306.30" x2="578.10" y2="306.30" stroke="#ffa050" stroke-width="1"/>
<rect x="580.80" y="326.70" width="10.80" height="32.60" fill="#000000"/>
<line x1="586.20" y1="318.40" x2="586.20" y2="326.70" stroke="#606060" stroke-width="1"/>
<line x1="583.50" y1="318.40" x2="588.90" y2="318.40" stroke="#606060" stroke-width="1"/>
<rect x="591.60" y="300.30" width="10.80" height="59.00" fill="#906224"/>
<line x1="597.00" y1="292.40" x2="597.00" y2="300.30" stroke="#b08a58" stroke-width="1"/>
<line x1="594.30" y1="292.40" x2="599.70" y2="292.40" stroke="#b08a58" stroke-width="1"/>
<line x1="348.50" y1="207.30" x2="348.50" y2="359.30" stroke="#9a9a9a" stroke-width="1"/>
<line x1="346.50" y1="359.30" x2="608.10" y2="359.30" stroke="#383838" stroke-width="1.2"/>
<line x1="346.50" y1="359.30" x2="348.50" y2="359.30" stroke="#888" stroke-width="1"/>
<text transform="translate(346.20,362.60) scale(0.67,1)" font-size="9.8" font-family='"Liberation Serif", serif' font-weight="bold" fill="#222" text-anchor="end" stroke="#222" stroke-width="0.3">0.00</text>
<line x1="346.50" y1="298.80" x2="348.50" y2="298.80" stroke="#888" stroke-width="1"/>
<text transform="translate(346.20,302.10) scale(0.67,1)" font-size="9.8" font-family='"Liberation Serif", serif' font-weight="bold" fill="#222" text-anchor="end" stroke="#222" stroke-width="0.3">0.04</text>
<line x1="346.50" y1="238.40" x2="348.50" y2="238.40" stroke="#888" stroke-width="1"/>
<text transform="translate(346.20,241.70) scale(0.67,1)" font-size="9.8" font-family='"Liberation Serif", serif' font-weight="bold" fill="#222" text-anchor="end" stroke="#222" stroke-width="0.3">0.08</text>
<text transform="translate(331.80,309.65) rotate(-90) scale(1,0.66)" font-size="10" font-family='"Liberation Serif", serif' font-weight="bold" fill="#1a1a1a" stroke="#1a1a1a" stroke-width="0.3" text-anchor="middle" textLength="80.50" lengthAdjust="spacingAndGlyphs">(nmol/min/mg of</text>
<text transform="translate(331.80,248.05) rotate(-90) scale(1,0.66)" font-size="10" font-family='"Liberation Serif", serif' font-weight="bold" fill="#1a1a1a" stroke="#1a1a1a" stroke-width="0.3" text-anchor="middle" textLength="31.70" lengthAdjust="spacingAndGlyphs">protein)</text>
<text transform="translate(391.70,376.60) scale(0.63,1)" font-size="10.2" font-family='"Liberation Serif", serif' font-weight="bold" fill="#111" text-anchor="middle" stroke="#111" stroke-width="0.3">12 h</text>
<text transform="translate(478.30,376.60) scale(0.63,1)" font-size="10.2" font-family='"Liberation Serif", serif' font-weight="bold" fill="#111" text-anchor="middle" stroke="#111" stroke-width="0.3">24 h</text>
<text transform="translate(564.80,376.60) scale(0.63,1)" font-size="10.2" font-family='"Liberation Serif", serif' font-weight="bold" fill="#111" text-anchor="middle" stroke="#111" stroke-width="0.3">48 h</text>
<text x="403.20" y="399.40" font-size="8.2" font-family='"Liberation Serif", serif' font-weight="bold" fill="#111" text-anchor="start" textLength="6.50" lengthAdjust="spacingAndGlyphs" stroke="#111" stroke-width="0.3">D.</text>
<text x="419.10" y="399.40" font-size="8.2" font-family='"Liberation Serif", serif' font-weight="bold" fill="#111" text-anchor="start" textLength="108.70" lengthAdjust="spacingAndGlyphs" stroke="#111" stroke-width="0.3">Acetylcholinesterase (AChE) activity</text>
<rect x="625.5" y="155.25" width="10" height="2.7" rx="1" fill="#0000ff"/>
<text transform="translate(641.0,159.00) scale(0.705,1)" font-size="7" font-family='"Liberation Sans", sans-serif' fill="#333">Control</text>
<rect x="625.5" y="172.25" width="10" height="2.7" rx="1" fill="#ff0000"/>
<text transform="translate(641.0,176.00) scale(0.705,1)" font-size="7" font-family='"Liberation Sans", sans-serif' fill="#333">Malathion</text>
<rect x="625.5" y="189.25" width="10" height="2.7" rx="1" fill="#00b800"/>
<text transform="translate(641.0,193.00) scale(0.705,1)" font-size="7" font-family='"Liberation Sans", sans-serif' fill="#333">Deltamethrin</text>
<rect x="625.5" y="206.25" width="10" height="2.7" rx="1" fill="#a100e6"/>
<text transform="translate(641.0,210.00) scale(0.705,1)" font-size="7" font-family='"Liberation Sans", sans-serif' fill="#333">Spinosad</text>
<rect x="625.5" y="223.25" width="10" height="2.7" rx="1" fill="#ff8000"/>
<text transform="translate(641.0,227.00) scale(0.705,1)" font-size="7" font-family='"Liberation Sans", sans-serif' fill="#333">Spinetoram</text>
<rect x="625.5" y="240.25" width="10" height="2.7" rx="1" fill="#000000"/>
<text transform="translate(641.0,244.00) scale(0.705,1)" font-size="7" font-family='"Liberation Sans", sans-serif' fill="#333">Lambda-cyhalothrin</text>
<rect x="625.5" y="257.25" width="10" height="2.7" rx="1" fill="#906224"/>
<text transform="translate(641.0,261.00) scale(0.705,1)" font-size="7" font-family='"Liberation Sans", sans-serif' fill="#333">Chlorfenapyr</text>
</svg>
</body></html>
